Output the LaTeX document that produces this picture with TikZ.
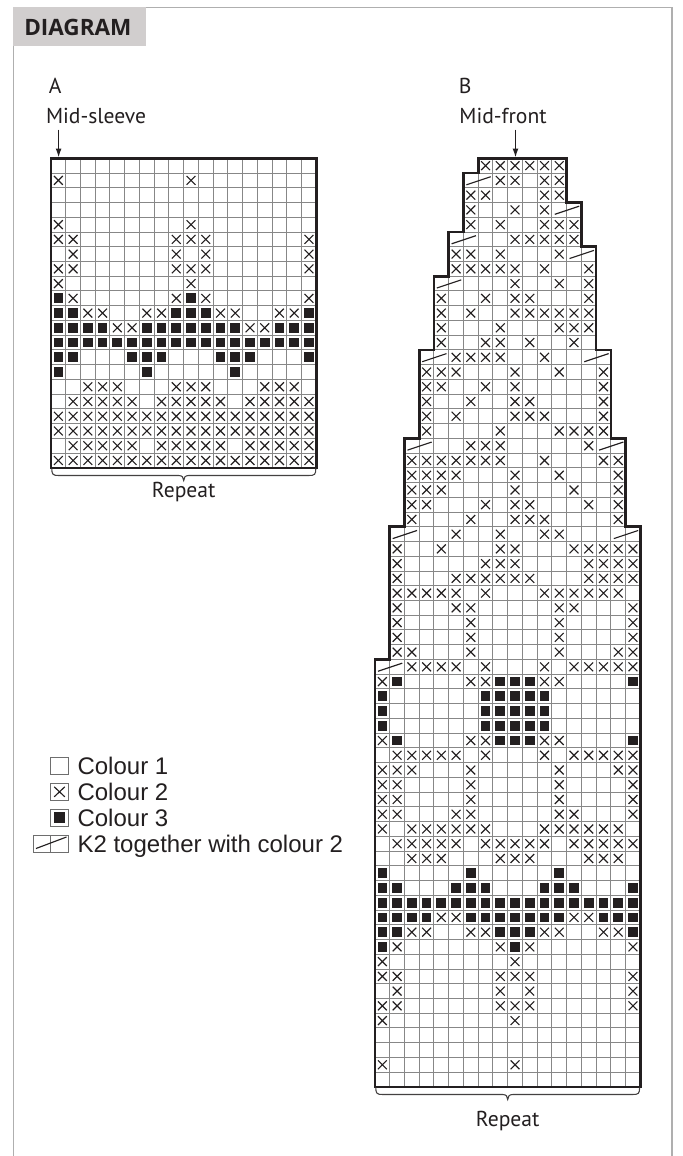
\documentclass[tikz,border=0pt]{standalone}
\usepackage{fontspec}
\setmainfont{Liberation Sans}
\newfontfamily\labfont{PT Sans}
\newfontfamily\hdrfont{Open Sans}
\usetikzlibrary{arrows.meta}
\definecolor{gridgray}{RGB}{135,135,135}
\definecolor{inkblack}{RGB}{35,31,32}
\definecolor{hdrgray}{RGB}{209,206,206}
\definecolor{framegray}{RGB}{175,175,175}
\definecolor{leggray}{RGB}{110,110,110}

\newcount\kcol \newcount\krow
\newif\ifgridpass
\def\docell#1{%
  \if#1-\else
    \ifgridpass
      \draw[gridline] (\the\kcol,\the\krow) rectangle ++(1,1);%
    \else
      \if#1x\draw[markline] (\the\kcol+0.2,\the\krow+0.2) -- ++(0.6,0.6) (\the\kcol+0.8,\the\krow+0.2) -- ++(-0.6,0.6);\fi
      \if#1b\fill[inkblack] (\the\kcol+0.17,\the\krow+0.17) rectangle ++(0.66,0.66);\fi
      \if#1s\draw[markline] (\the\kcol+0.2,\the\krow+0.8) -- (\the\kcol+1.85,\the\krow+0.25);\fi
    \fi
  \fi}
\def\parsecell#1{\ifx#1;\else\docell#1\advance\kcol by 1\relax\expandafter\parsecell\fi}
\def\crow#1{\kcol=0\relax\parsecell#1;\advance\krow by 1\relax}

\def\rowsA{%
\crow{oooooo oooooo oooooo}
\crow{xooooo oooxoo oooooo}
\crow{oooooo oooooo oooooo}
\crow{oooooo oooooo oooooo}
\crow{xooooo oooxoo oooooo}
\crow{xxoooo ooxxxo ooooox}
\crow{oxoooo ooxoxo ooooox}
\crow{xxoooo ooxxxo ooooox}
\crow{xooooo oooxoo oooooo}
\crow{bxoooo ooxbxo ooooox}
\crow{bbxxoo xxbbbx xooxxb}
\crow{bbbbxx bbbbbb bxxbbb}
\crow{bbbbbb bbbbbb bbbbbb}
\crow{bbooob bbooob bbooob}
\crow{booooo booooo booooo}
\crow{ooxxxo ooxxxo ooxxxo}
\crow{oxxxxx oxxxxx oxxxxx}
\crow{xxxxxx xxxxxx xxxxxx}
\crow{xxxxxx xxxxxx xxxxxx}
\crow{oxxxxx oxxxxx oxxxxx}
\crow{xxxxxx xxxxxx xxxxxx}}

\def\rowsB{%
\crow{------ -xxxxx x-----}
\crow{------ soxxox x-----}
\crow{------ xxooox x-----}
\crow{------ xooxox so----}
\crow{------ xoxoox xx----}
\crow{-----s oooxxx xx----}
\crow{-----x xoxooo xso---}
\crow{-----x xxxxox oox---}
\crow{----so oooxoo xox---}
\crow{----xo oxoxxo oox---}
\crow{----xo xooxxx xxx---}
\crow{----xo ooxooo xxx---}
\crow{----xo oxxoxo oxo---}
\crow{---sox xxxoox ooso--}
\crow{---xxx oooxoo xoox--}
\crow{---xxo oxoxoo ooox--}
\crow{---xoo xooxxo ooox--}
\crow{---xox oooxxx ooox--}
\crow{---xoo ooxooo xxxx--}
\crow{--sooo xxxooo ooxso-}
\crow{--xxxx xxxoox oooxx-}
\crow{--xxxx oooxoo xooox-}
\crow{--xxxo oooxoo oxoox-}
\crow{--xxoo oxoxxo ooxox-}
\crow{--xooo xooxxx oooox-}
\crow{-sooox ooxoox xoooso}
\crow{-xooxo ooxxoo oxxxxx}
\crow{-xoooo oxxxoo ooxxxx}
\crow{-xooox xxxxxo ooxxxx}
\crow{-xxxxx oxooox xxxxxo}
\crow{-xooox xooooo xxooox}
\crow{-xoooo xooooo xoooox}
\crow{-xoooo xooooo xoooox}
\crow{-xxooo xooooo xoooxx}
\crow{soxxxx oxooox oxxxxx}
\crow{xboooo xxbbbx xoooob}
\crow{booooo obbbbb oooooo}
\crow{booooo obbbbb oooooo}
\crow{booooo obbbbb oooooo}
\crow{xboooo xxbbbx xoooob}
\crow{oxxxxx oxooox oxxxxx}
\crow{xxxooo xooooo xoooxx}
\crow{xxoooo xooooo xoooox}
\crow{xxoooo xooooo xoooox}
\crow{xxooox xooooo xxooox}
\crow{xoxxxx xxooox xxxxxo}
\crow{oxxxxx oxxxxx oxxxxx}
\crow{ooxxxo ooxxxo ooxxxo}
\crow{booooo booooo booooo}
\crow{bbooob bbooob bbooob}
\crow{bbbbbb bbbbbb bbbbbb}
\crow{bbbbxx bbbbbb bxxbbb}
\crow{bbxxoo xxbbbx xooxxb}
\crow{bxoooo ooxbxo ooooox}
\crow{xooooo oooxoo oooooo}
\crow{xxoooo ooxxxo ooooox}
\crow{oxoooo ooxoxo ooooox}
\crow{xxoooo ooxxxo ooooox}
\crow{xooooo oooxoo oooooo}
\crow{oooooo oooooo oooooo}
\crow{oooooo oooooo oooooo}
\crow{xooooo oooxoo oooooo}
\crow{oooooo oooooo oooooo}}

\newcommand\hbrace[4]{\draw[bracec] (#1,#4) .. controls (#1,#4+6) and (#1+1,#4+7) .. (#1+7,#4+7) -- (#3-5,#4+7) .. controls (#3-1.5,#4+7) and (#3,#4+9) .. (#3,#4+12) .. controls (#3,#4+9) and (#3+1.5,#4+7) .. (#3+5,#4+7) -- (#2-7,#4+7) .. controls (#2-1,#4+7) and (#2,#4+6) .. (#2,#4);}

\begin{document}
\begin{tikzpicture}[x=0.75pt,y=-0.75pt,
  gridline/.style={draw=gridgray,line width=0.75pt},
  markline/.style={draw=inkblack,line width=0.85pt},
  outline/.style={draw=inkblack,line width=2pt,line join=miter},
  bracec/.style={draw=inkblack!85,line width=0.8pt},
  labtext/.style={font=\labfont\fontsize{16.2}{19}\selectfont,text=inkblack,inner sep=0pt},
  legtext/.style={font=\fontsize{18}{21}\selectfont,text=inkblack,inner sep=0pt},
  legbox/.style={draw=leggray,line width=0.75pt},
  hdrtext/.style={font=\hdrfont\bfseries\fontsize{16.9}{20}\selectfont,text=inkblack,inner sep=0pt},
  arrowc/.style={draw=inkblack,line width=1pt,-{Latex[length=6.75pt,width=4.5pt]}}]
\useasboundingbox (0,0) rectangle (682,1156);
\fill[white] (0,0) rectangle (682,1156);
% frame and header
\draw[framegray,line width=1.1pt] (13.3,1160) -- (13.3,7.3) -- (672,7.3) -- (672,1160);
\fill[hdrgray] (13.3,7.3) rectangle (145.7,45.7);
\node[hdrtext,anchor=base west] (hdr) at (24,35.7) {DIAGRAM};
% labels
\node[labtext,anchor=base west] (labA) at (48.5,93.7) {A};
\node[labtext,anchor=base west] (midA) at (45.8,123.5) {Mid-sleeve};
\node[labtext,anchor=base west] (labB) at (458.5,93.7) {B};
\node[labtext,anchor=base west] (midB) at (459.2,123) {Mid-front};
\coordinate (arrAs) at (58.6,129.5);
\coordinate (arrAe) at (58.6,157.5);
\coordinate (arrBs) at (515.5,129.5);
\coordinate (arrBe) at (515.5,157.5);
\draw[arrowc] (arrAs) -- (arrAe);
\draw[arrowc] (arrBs) -- (arrBe);
% chart A
\begin{scope}[shift={(51,158.3)},x=11.055pt,y=-11.055pt]
\krow=0 \gridpasstrue \rowsA
\krow=0 \gridpassfalse \rowsA
\draw[outline] (0,0) rectangle (18,21);
\end{scope}
% chart B
\begin{scope}[shift={(375,158.3)},x=11.055pt,y=-11.055pt]
\krow=0 \gridpasstrue \rowsB
\krow=0 \gridpassfalse \rowsB
\draw[outline] (7,0) -- (13,0) -- (13,3) -- (14,3) -- (14,6) -- (15,6) -- (15,13) -- (16,13) -- (16,19) -- (17,19) -- (17,25) -- (18,25) -- (18,63) -- (0,63) -- (0,34) -- (1,34) -- (1,25) -- (2,25) -- (2,19) -- (3,19) -- (3,13) -- (4,13) -- (4,8) -- (5,8) -- (5,5) -- (6,5) -- (6,1) -- (7,1) -- cycle;
\end{scope}
% braces and repeat labels
\hbrace{51.8}{315.8}{183.7}{468.5}
\hbrace{375.8}{639.6}{507.7}{1087.5}
\node[labtext,anchor=base] (repA) at (183.7,497) {Repeat};
\node[labtext,anchor=base] (repB) at (507.7,1126) {Repeat};
% legend
\draw[legbox] (50.7,757.3) rectangle (68.3,774.3);
\node[legtext,anchor=base west] (leg1) at (77.3,774.3) {Colour 1};
\draw[legbox] (50.7,783.3) rectangle (68.3,800.3);
\draw[markline] (54.2,786.8) -- (64.8,796.8) (64.8,786.8) -- (54.2,796.8);
\node[legtext,anchor=base west] (leg2) at (77.3,800.3) {Colour 2};
\draw[legbox] (50.7,809.3) rectangle (68.3,826.3);
\fill[inkblack] (53.8,812.4) rectangle (65.2,823.2);
\node[legtext,anchor=base west] (leg3) at (77.3,826.3) {Colour 3};
\draw[legbox] (33.3,835.3) rectangle (68.3,852);
\draw[legbox] (50.8,835.3) -- (50.8,852);
\draw[markline] (36,848.5) -- (66.5,837);
\node[legtext,anchor=base west] (leg4) at (77.3,852) {K2 together with colour 2};
\end{tikzpicture}
\end{document}
